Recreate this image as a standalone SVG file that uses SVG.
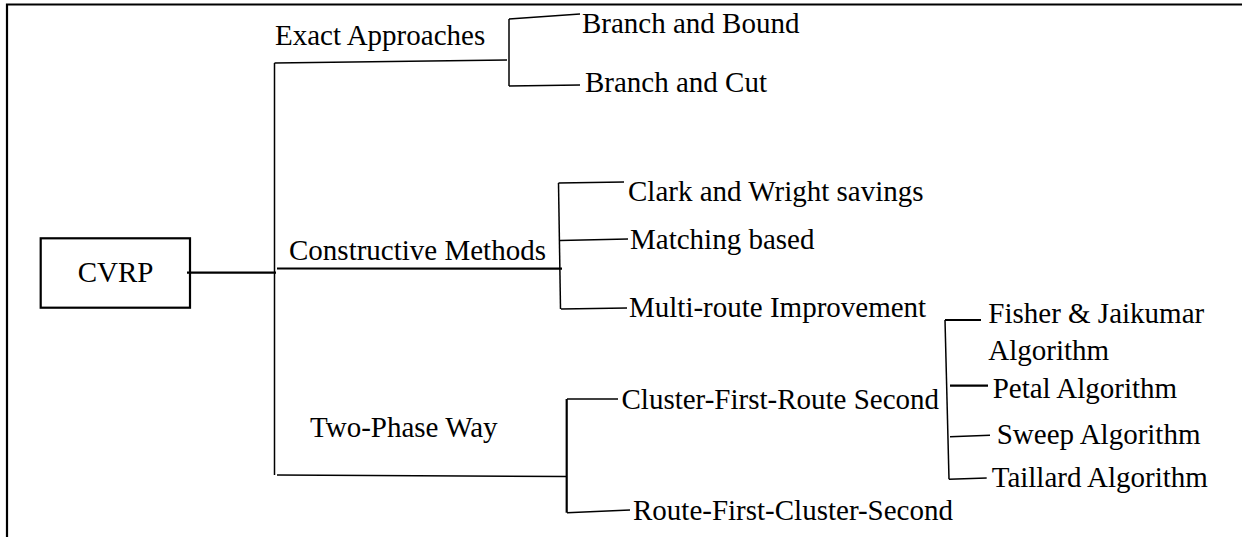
<svg xmlns="http://www.w3.org/2000/svg" width="1242" height="537" viewBox="0 0 1242 537">
<style>
text{font-family:"Liberation Serif","Times New Roman",serif;font-size:29px;fill:#000}
.ln{stroke:#000;stroke-width:1.5;fill:none}
.thk{stroke:#000;stroke-width:2.2;fill:none}
</style>
<rect width="1242" height="537" fill="#fff"/>
<path class="thk" d="M7,537 V4.5 H1242" stroke-width="2.5"/>
<g id="connectors">
<path class="thk" d="M187,272.7 H276"/>
<path class="ln" d="M274.5,63 V475"/>
<path class="ln" d="M274.5,63 L507,60"/>
<path class="thk" d="M277,268.5 L562,268.7"/>
<path class="ln" d="M277,475 L566,476.5"/>
<path class="ln" d="M509,19 V86"/>
<path class="ln" d="M509,19 L580,14"/>
<path class="ln" d="M509,86 L580,85"/>
<path class="ln" d="M558.5,183 L560.5,309"/>
<path class="ln" d="M558.5,183 L624,182"/>
<path class="ln" d="M560,240.5 L628,239"/>
<path class="ln" d="M561,309 L627,308"/>
<path class="thk" d="M566.7,399 V512.7"/>
<path class="ln" d="M567,399 L618,399"/>
<path class="ln" d="M567,512.7 L630,510"/>
<path class="ln" d="M945,320 L949,479.3"/>
<path class="thk" d="M945,320 L981,320"/>
<path class="thk" d="M950,385.7 L988,385.7"/>
<path class="ln" d="M950,436.7 L990,435.3"/>
<path class="ln" d="M949,479.3 L986.7,478"/>
</g>
<g id="cvrp">
<rect x="40.7" y="238.3" width="149.3" height="69.4" fill="none" stroke="#000" stroke-width="2.2"/>
<text x="77.7" y="281.7">CVRP</text>
</g>
<g id="exact"><text x="275" y="45">Exact Approaches</text></g>
<g id="bnb"><text x="582" y="33">Branch and Bound</text></g>
<g id="bnc"><text x="585" y="91.5">Branch and Cut</text></g>
<g id="constructive"><text x="289" y="260">Constructive Methods</text></g>
<g id="clark"><text x="628" y="200.5">Clark and Wright savings</text></g>
<g id="matching"><text x="630" y="249">Matching based</text></g>
<g id="multiroute"><text x="629" y="316.5">Multi-route Improvement</text></g>
<g id="twophase"><text x="310" y="437">Two-Phase Way</text></g>
<g id="cfrs"><text x="621.5" y="409.3">Cluster-First-Route Second</text></g>
<g id="rfcs"><text x="633" y="520">Route-First-Cluster-Second</text></g>
<g id="fisher"><text x="988.3" y="322.7">Fisher &amp; Jaikumar</text><text x="988.3" y="360">Algorithm</text></g>
<g id="petal"><text x="992.7" y="398.3">Petal Algorithm</text></g>
<g id="sweep"><text x="996.7" y="444">Sweep Algorithm</text></g>
<g id="taillard"><text x="991.7" y="486.7">Taillard Algorithm</text></g>
</svg>
